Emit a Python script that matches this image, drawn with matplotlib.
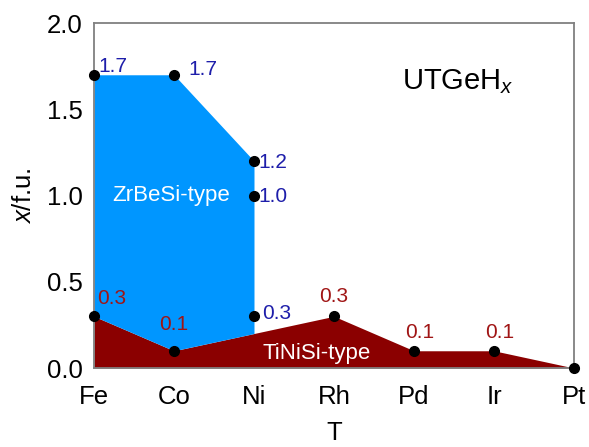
import numpy as np
import matplotlib
matplotlib.use("Agg")
import matplotlib.pyplot as plt

plt.rcParams['font.family'] = ['Liberation Sans', 'DejaVu Sans']
plt.rcParams['mathtext.fontset'] = 'custom'
plt.rcParams['mathtext.rm'] = 'Liberation Sans'
plt.rcParams['mathtext.it'] = 'Liberation Sans:italic'

metals = ['Fe', 'Co', 'Ni', 'Rh', 'Pd', 'Ir', 'Pt']
# ZrBeSi-type upper boundary (Fe, Co, Ni)
zrbesi_idx = [0, 1, 2]
zrbesi_x = [1.7, 1.7, 1.2]
# TiNiSi-type boundary (Ni not measured)
tinisi_idx = [0, 1, 3, 4, 5, 6]
tinisi_x = [0.3, 0.1, 0.3, 0.1, 0.1, 0.0]
# extra measured points at Ni
ni_extra = [1.0, 0.3]

blue_fill = '#0096FF'
red_fill = '#8B0000'
blue_txt = '#1E1EAA'
red_txt = '#A01515'

fig = plt.figure(figsize=(5.89, 4.47), dpi=100)
ax = fig.add_axes([0.1596, 0.1767, 0.8149, 0.7718])

xs = np.linspace(0, 6, 601)
red_line = np.interp(xs, tinisi_idx, tinisi_x)
ax.fill_between(xs, 0, red_line, color=red_fill, lw=0, zorder=1)
xb = xs[xs <= 2]
blue_top = np.interp(xb, zrbesi_idx, zrbesi_x)
ax.fill_between(xb, np.interp(xb, tinisi_idx, tinisi_x), blue_top, color=blue_fill, lw=0, zorder=1)

# dots
ax.plot(zrbesi_idx, zrbesi_x, 'o', color='black', ms=7, clip_on=False, zorder=5, ls='none')
ax.plot([2] * len(ni_extra), ni_extra, 'o', color='black', ms=7, clip_on=False, zorder=5, ls='none')
ax.plot(tinisi_idx, tinisi_x, 'o', color='black', ms=7, clip_on=False, zorder=5, ls='none')

fs = 15
blue_offsets = [(3, 6), (10, 4), (3, -1)]
for i, v, off in zip(zrbesi_idx, zrbesi_x, blue_offsets):
    ax.annotate(f'{v:.1f}', (i, v), xytext=off, textcoords='offset points',
                ha='left', va='center', color=blue_txt, fontsize=fs, zorder=6)
for v, off in zip(ni_extra, [(3, -1), (6, 2)]):
    ax.annotate(f'{v:.1f}', (2, v), xytext=off, textcoords='offset points',
                ha='left', va='center', color=blue_txt, fontsize=fs, zorder=6)
red_offsets = [(2, 13), (0, 19), (0, 14), (4, 13), (4, 13)]
red_ha = ['left', 'center', 'center', 'center', 'center']
for i, v, off, ha in zip(tinisi_idx[:-1], tinisi_x[:-1], red_offsets, red_ha):
    ax.annotate(f'{v:.1f}', (i, v), xytext=off, textcoords='offset points',
                ha=ha, va='center', color=red_txt, fontsize=fs, zorder=6)

ax.text(0.97, 1.0, 'ZrBeSi-type', color='white', fontsize=16, ha='center', va='center', zorder=4)
ax.text(2.78, 0.085, 'TiNiSi-type', color='white', fontsize=16, ha='center', va='center', zorder=4)
ax.text(4.55, 1.66, r'UTGeH$_{\mathit{x}}$', color='black', fontsize=21, ha='center', va='center')

ax.set_xlim(0, 6)
ax.set_ylim(0, 2)
ax.set_xticks(range(len(metals)))
ax.set_xticklabels(metals)
ax.set_yticks([0, 0.5, 1.0, 1.5, 2.0])
ax.set_yticklabels(['0.0', '0.5', '1.0', '1.5', '2.0'])
ax.tick_params(axis='both', length=0, labelsize=18.5)
ax.tick_params(axis='x', pad=12)
ax.tick_params(axis='y', pad=8)
for s in ax.spines.values():
    s.set_color('#808080')
    s.set_linewidth(1.3)
ax.set_xlabel('T', fontsize=18.5, labelpad=9)
ax.set_ylabel(r'$\mathit{x}$/f.u.', fontsize=18.5, labelpad=8)

fig.savefig('out.png', dpi=100)
